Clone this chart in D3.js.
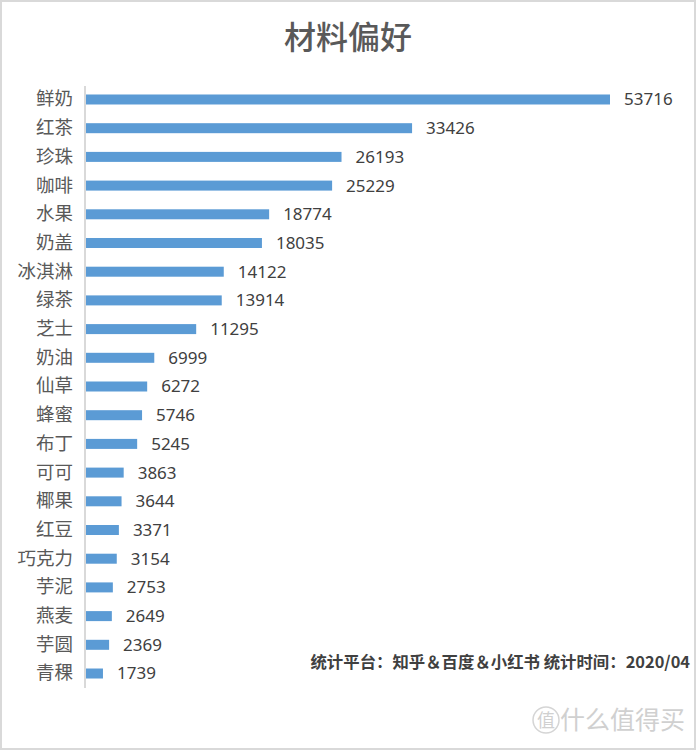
<!DOCTYPE html>
<html><head><meta charset="utf-8">
<script src="https://cdn.jsdelivr.net/npm/d3@7"></script>
<style>body{margin:0;background:#fff}svg{display:block}</style>
</head><body>
<script>
const categories = ["鲜奶","红茶","珍珠","咖啡","水果","奶盖","冰淇淋","绿茶","芝士","奶油","仙草","蜂蜜","布丁","可可","椰果","红豆","巧克力","芋泥","燕麦","芋圆","青稞"];
const values = [53716,33426,26193,25229,18774,18035,14122,13914,11295,6999,6272,5746,5245,3863,3644,3371,3154,2753,2649,2369,1739];
const title = "材料偏好";
const footnote = "统计平台：知乎＆百度＆小红书 统计时间：2020/04";
const watermark = "什么值得买";

const W = 696, H = 750;
const svg = d3.select("body").append("svg").attr("width", W).attr("height", H);
svg.append("rect").attr("x",1).attr("y",1).attr("width",W-2).attr("height",H-2)
  .attr("fill","#fff").attr("stroke","#d9d9d9").attr("stroke-width",2);

const font = "'Noto Sans CJK SC', 'Noto Sans', sans-serif";
svg.append("text").attr("x",348).attr("y",49).attr("text-anchor","middle")
  .attr("font-family",font).attr("font-size",32).attr("font-weight",500).attr("fill","#595959").text(title);

const x0 = 86;
const x = d3.scaleLinear().domain([0, 53716]).range([x0, 610]);
const y = d3.scaleBand().domain(categories).range([85, 688]).paddingInner(0.65).paddingOuter(0.33);

const g = svg.append("g");
g.selectAll("rect.bar").data(values).join("rect").attr("class","bar")
  .attr("x", x(0)).attr("y",(d,i)=>y(categories[i])+y.bandwidth()/2-5)
  .attr("width", d=>x(d)-x(0)).attr("height",10).attr("fill","#5b9bd5");

const ax = d3.axisLeft(y).tickSize(0).tickPadding(12);
const axg = svg.append("g").attr("transform",`translate(${x0-1},0)`).call(ax);
axg.select(".domain").attr("stroke","#d9d9d9").attr("stroke-width",2).attr("d","M0,86V688");
axg.selectAll("text").attr("font-family",font).attr("font-size",18.5).attr("fill","#595959");

g.selectAll("text.val").data(values).join("text").attr("class","val")
  .attr("x", d=>x(d)+14).attr("y",(d,i)=>y(categories[i])+y.bandwidth()/2)
  .attr("dy","0.35em").attr("font-family","'Noto Sans', sans-serif").attr("font-size",17)
  .attr("fill","#404040").text(d=>d);

svg.append("text").attr("x",690).attr("y",668).attr("text-anchor","end")
  .attr("font-family",font).attr("font-size",16.4).attr("font-weight","bold")
  .attr("fill","#404040").text(footnote);

const wm = svg.append("g").attr("fill","#d0d0d0");
wm.append("circle").attr("cx",546).attr("cy",720).attr("r",13).attr("fill","none").attr("stroke","#d5d5d5").attr("stroke-width",1.5);
wm.append("text").attr("x",546).attr("y",727).attr("text-anchor","middle").attr("font-family",font).attr("font-size",18).text("值");
wm.append("text").attr("x",685).attr("y",729).attr("text-anchor","end").attr("font-family",font).attr("font-size",25).text(watermark);
</script>
</body></html>
